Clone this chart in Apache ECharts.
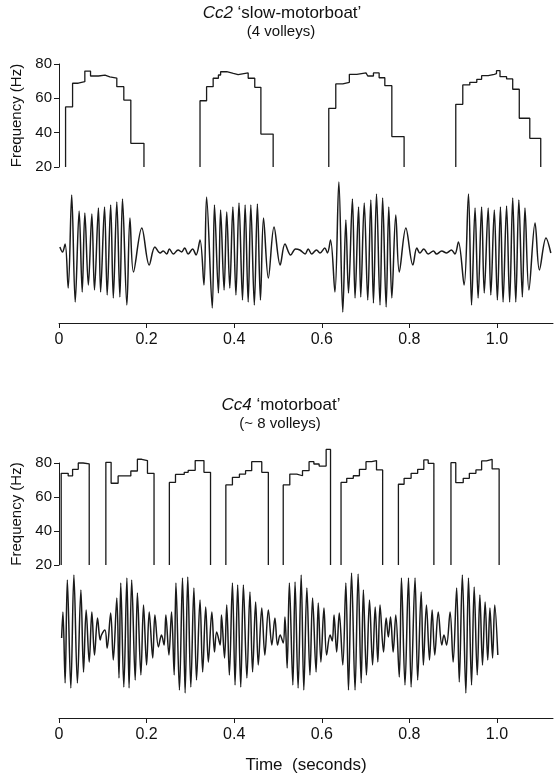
<!DOCTYPE html>
<html>
<head>
<meta charset="utf-8">
<script src="https://cdn.jsdelivr.net/npm/echarts@6/dist/echarts.min.js"></script>
<style>
html,body{margin:0;padding:0;background:#fff;}
#chart{width:558px;height:779px;}
</style>
</head>
<body>
<div id="chart"></div>
<script>
// ---------- tick labels ----------
const timeTicks = [0, 0.2, 0.4, 0.6, 0.8, 1.0];
const freqTicks = [20, 40, 60, 80];

// ---------- Cc2 'slow-motorboat' : frequency steps [time s, Hz] ----------
const cc2Freq1 = [[0.015,20],[0.015,55],[0.031,68.8],[0.044,69.7],[0.059,75.9],[0.072,73],[0.090,73.5],[0.105,72.5],[0.116,71.8],[0.132,66.8],[0.148,59],[0.164,33.8],[0.194,20]];
const cc2Freq2 = [[0.322,20],[0.322,58.6],[0.337,66.8],[0.352,71.7],[0.364,73.6],[0.369,75.5],[0.383,74.5],[0.398,73.8],[0.409,74.8],[0.432,71.7],[0.447,66.4],[0.461,39.2],[0.489,20]];
const cc2Freq3 = [[0.616,20],[0.616,54.2],[0.632,68.4],[0.648,69.3],[0.663,74],[0.680,74.8],[0.701,75.3],[0.705,73],[0.718,74.8],[0.731,72],[0.744,67.4],[0.760,37.7],[0.788,20]];
const cc2Freq4 = [[0.906,20],[0.906,56.5],[0.922,67.8],[0.938,69.3],[0.954,71.1],[0.965,73.2],[0.980,74],[0.994,74.4],[0.999,76.1],[1.007,72.6],[1.022,71.3],[1.036,65.3],[1.051,48.4],[1.075,36.7],[1.100,20]];

// ---------- Cc2 waveform extrema [time s, relative amplitude] ----------
const cc2Wave = [[0.002,3],[0.008,-2],[0.014,6],[0.021,-38],[0.029,55],[0.037,-52],[0.046,39],[0.053,-42],[0.059,37],[0.067,-35],[0.075,36],[0.081,-40],[0.090,42],[0.095,-42],[0.104,43],[0.110,-45],[0.118,45],[0.124,-48],[0.132,48],[0.139,-47],[0.145,51],[0.155,-55],[0.162,32],[0.170,-22],[0.189,22],[0.206,-15],[0.219,3],[0.231,-3],[0.238,-1],[0.246,-4],[0.252,1],[0.261,-4],[0.272,0],[0.280,-2],[0.287,2],[0.295,-4],[0.305,1],[0.313,-5],[0.322,10],[0.331,-35],[0.337,53],[0.350,-58],[0.355,45],[0.364,-43],[0.369,40],[0.377,-40],[0.383,38],[0.390,-38],[0.397,43],[0.404,-45],[0.411,47],[0.419,-50],[0.425,45],[0.432,-52],[0.438,45],[0.446,-55],[0.453,46],[0.460,-50],[0.467,32],[0.478,-28],[0.491,23],[0.505,-15],[0.516,6],[0.529,-5],[0.540,1],[0.550,0],[0.562,-4],[0.569,1],[0.577,-4],[0.588,0],[0.596,-3],[0.607,2],[0.613,-3],[0.620,10],[0.630,-42],[0.639,68],[0.648,-62],[0.655,30],[0.661,-43],[0.670,51],[0.676,-48],[0.684,43],[0.689,-47],[0.697,47],[0.705,-50],[0.712,50],[0.718,-53],[0.725,56],[0.733,-55],[0.739,52],[0.747,-57],[0.753,43],[0.760,-48],[0.769,35],[0.777,-22],[0.792,22],[0.808,-15],[0.817,2],[0.824,-3],[0.833,1],[0.843,-4],[0.855,-1],[0.862,-4],[0.874,-1],[0.885,-3],[0.896,0],[0.904,-4],[0.912,8],[0.925,-35],[0.935,56],[0.942,-55],[0.950,42],[0.957,-48],[0.965,43],[0.971,-43],[0.980,42],[0.986,-45],[0.994,40],[1.001,-50],[1.008,43],[1.014,-52],[1.022,44],[1.029,-52],[1.036,52],[1.043,-52],[1.050,50],[1.058,-47],[1.064,42],[1.073,-40],[1.087,27],[1.097,-20],[1.112,12],[1.123,-3]];

// ---------- Cc4 'motorboat' : frequency steps [time s, Hz] ----------
const cc4Freq1 = [[0.005,20],[0.005,73.9],[0.021,72.4],[0.031,76.3],[0.044,80],[0.055,79.5],[0.069,20]];
const cc4Freq2 = [[0.107,20],[0.107,80.4],[0.119,68.1],[0.135,72.4],[0.164,75.3],[0.179,82.2],[0.189,81.4],[0.202,73.9],[0.217,20]];
const cc4Freq3 = [[0.252,20],[0.252,68.6],[0.266,73.3],[0.286,74.5],[0.295,75.7],[0.311,81.4],[0.331,74.5],[0.346,20]];
const cc4Freq4 = [[0.381,20],[0.381,67.1],[0.396,71.6],[0.412,73.5],[0.426,75.5],[0.440,80.8],[0.463,74.5],[0.478,20]];
const cc4Freq5 = [[0.512,20],[0.512,67.1],[0.527,73.5],[0.543,72.5],[0.556,75.5],[0.571,80.8],[0.582,79.4],[0.594,78.2],[0.610,88.0],[0.620,20]];
const cc4Freq6 = [[0.644,20],[0.644,68.6],[0.657,71],[0.672,72.5],[0.686,76.3],[0.701,80.8],[0.714,81.4],[0.725,75.9],[0.739,20]];
const cc4Freq7 = [[0.775,20],[0.775,67.5],[0.788,71],[0.804,73.9],[0.819,76.3],[0.833,81.8],[0.843,79.8],[0.856,20]];
const cc4Freq8 = [[0.895,20],[0.895,80.2],[0.906,68.4],[0.923,71],[0.937,73.9],[0.952,75.9],[0.965,81.2],[0.976,82.2],[0.989,76.5],[1.005,20]];

// ---------- Cc4 waveform extrema [time s, relative amplitude] ----------
const cc4Wave = [[0.006,0],[0.009,26],[0.014,-45],[0.019,58],[0.027,-50],[0.034,63],[0.042,-45],[0.050,48],[0.056,-34],[0.062,28],[0.069,-24],[0.075,26],[0.081,-17],[0.088,20],[0.094,-2],[0.097,3],[0.105,8],[0.110,-10],[0.118,25],[0.124,-22],[0.132,40],[0.137,-40],[0.141,55],[0.148,-49],[0.155,60],[0.160,-50],[0.166,58],[0.174,-42],[0.179,45],[0.187,-37],[0.193,33],[0.200,-27],[0.206,26],[0.214,-20],[0.219,23],[0.227,-9],[0.234,3],[0.240,-7],[0.244,23],[0.251,-17],[0.257,26],[0.263,-37],[0.267,55],[0.275,-52],[0.282,60],[0.288,-55],[0.294,61],[0.301,-49],[0.308,50],[0.314,-42],[0.322,38],[0.328,-34],[0.335,31],[0.341,-24],[0.349,26],[0.355,-14],[0.360,6],[0.368,-7],[0.371,23],[0.378,-20],[0.383,33],[0.389,-37],[0.396,55],[0.402,-47],[0.408,53],[0.415,-49],[0.421,53],[0.429,-40],[0.436,46],[0.442,-34],[0.449,36],[0.455,-27],[0.463,30],[0.470,-17],[0.478,28],[0.486,-7],[0.493,20],[0.499,-7],[0.505,3],[0.512,-5],[0.516,21],[0.521,-30],[0.526,55],[0.534,-47],[0.539,56],[0.546,-50],[0.553,63],[0.559,-52],[0.566,50],[0.573,-37],[0.579,40],[0.587,-34],[0.592,35],[0.598,-24],[0.605,30],[0.611,-17],[0.619,3],[0.624,-3],[0.628,23],[0.634,-14],[0.640,25],[0.648,-27],[0.655,55],[0.661,-52],[0.668,65],[0.676,-52],[0.683,64],[0.690,-45],[0.695,48],[0.702,-37],[0.709,38],[0.716,-27],[0.722,31],[0.728,-24],[0.733,33],[0.741,-14],[0.747,20],[0.752,1],[0.757,21],[0.763,-14],[0.769,23],[0.777,-39],[0.782,60],[0.790,-47],[0.798,60],[0.804,-49],[0.813,60],[0.819,-42],[0.827,46],[0.832,-27],[0.839,33],[0.846,-22],[0.852,28],[0.858,-17],[0.866,26],[0.874,-7],[0.879,3],[0.885,-7],[0.893,26],[0.900,-24],[0.908,50],[0.914,-44],[0.921,63],[0.929,-55],[0.935,60],[0.942,-47],[0.948,51],[0.955,-37],[0.961,43],[0.967,-27],[0.973,36],[0.979,-22],[0.984,30],[0.990,-20],[0.995,33],[1.002,-17]];

const cc2FreqVolleys = [cc2Freq1, cc2Freq2, cc2Freq3, cc2Freq4];
const cc4FreqVolleys = [cc4Freq1, cc4Freq2, cc4Freq3, cc4Freq4, cc4Freq5, cc4Freq6, cc4Freq7, cc4Freq8];

// ---------- styling / layout ----------
const FONT = '"Liberation Sans", Arial, Helvetica, sans-serif';
const INK = '#1a1a1a';
const T_MAX = 1.128;

const chart = echarts.init(document.getElementById('chart'), null, {renderer: 'canvas'});

function grid(top, height) {
  return {left: 59, right: 5, top: top, height: height, outerBoundsMode: 'none', containLabel: false};
}
function hiddenX(gi) {
  return {type: 'value', gridIndex: gi, min: 0, max: T_MAX, show: false};
}
function timeAxis(gi, withName) {
  const ax = {
    type: 'value', gridIndex: gi, min: 0, max: T_MAX, interval: 0.2,
    axisLine: {show: true, onZero: false, lineStyle: {color: INK, width: 1}},
    axisTick: {show: true, inside: false, length: 5, lineStyle: {color: INK, width: 1}, customValues: timeTicks},
    axisLabel: {show: true, margin: 9, fontSize: 16, color: '#111', fontFamily: FONT, customValues: timeTicks,
      formatter: v => (v === 0 ? '0' : v.toFixed(1))},
    splitLine: {show: false}
  };
  if (withName) {
    ax.name = 'Time  (seconds)';
    ax.nameLocation = 'middle';
    ax.nameGap = 39;
    ax.nameTextStyle = {fontSize: 17, color: '#111', fontFamily: FONT};
  }
  return ax;
}
function freqAxis(gi) {
  return {
    type: 'value', gridIndex: gi, min: 20, max: 80, interval: 20,
    name: 'Frequency (Hz)', nameLocation: 'middle', nameRotate: 90, nameGap: 29,
    nameTextStyle: {fontSize: 15, color: '#111', fontFamily: FONT},
    axisLine: {show: true, lineStyle: {color: INK, width: 1}},
    axisTick: {show: true, inside: false, length: 5, lineStyle: {color: INK, width: 1}},
    axisLabel: {show: true, margin: 7, fontSize: 15, color: '#111', fontFamily: FONT},
    splitLine: {show: false}
  };
}
function waveAxis(gi, mn, mx) {
  return {type: 'value', gridIndex: gi, min: mn, max: mx, show: false};
}
function stepSeries(data, axisIdx) {
  return {type: 'line', xAxisIndex: axisIdx, yAxisIndex: axisIdx, data: data, step: 'end',
    symbol: 'none', clip: false, silent: true, animation: false,
    lineStyle: {color: INK, width: 1.3}};
}
function waveSeries(data, axisIdx) {
  return {type: 'line', xAxisIndex: axisIdx, yAxisIndex: axisIdx, data: data,
    symbol: 'none', clip: false, silent: true, animation: false, smooth: 0.35,
    lineStyle: {color: INK, width: 1.5}};
}

const series = [];
cc2FreqVolleys.forEach(v => series.push(stepSeries(v, 0)));
series.push(waveSeries(cc2Wave, 1));
cc4FreqVolleys.forEach(v => series.push(stepSeries(v, 2)));
series.push(waveSeries(cc4Wave, 3));

const titleRich = {i: {fontStyle: 'italic', fontSize: 17, fontFamily: FONT, fill: '#111'}};

chart.setOption({
  backgroundColor: '#fff',
  animation: false,
  grid: [grid(64, 103), grid(175, 148), grid(463, 102), grid(570, 148)],
  xAxis: [hiddenX(0), timeAxis(1, false), hiddenX(2), timeAxis(3, true)],
  yAxis: [freqAxis(0), waveAxis(1, -73, 75), freqAxis(2), waveAxis(3, -80, 68)],
  series: series,
  graphic: [
    {type: 'text', x: 282, y: 13, silent: true,
      style: {text: '{i|Cc2} ‘slow-motorboat’', align: 'center', verticalAlign: 'middle',
        fontSize: 17, fontFamily: FONT, fill: '#111', rich: titleRich}},
    {type: 'text', x: 281, y: 32, silent: true,
      style: {text: '(4 volleys)', align: 'center', verticalAlign: 'middle',
        fontSize: 15, fontFamily: FONT, fill: '#111'}},
    {type: 'text', x: 281, y: 405, silent: true,
      style: {text: '{i|Cc4} ‘motorboat’', align: 'center', verticalAlign: 'middle',
        fontSize: 17, fontFamily: FONT, fill: '#111', rich: {i: {fontStyle: 'italic', fontSize: 17, fontFamily: FONT, fill: '#111'}}}},
    {type: 'text', x: 280, y: 424, silent: true,
      style: {text: '(~ 8 volleys)', align: 'center', verticalAlign: 'middle',
        fontSize: 15, fontFamily: FONT, fill: '#111'}}
  ]
});
</script>
</body>
</html>
